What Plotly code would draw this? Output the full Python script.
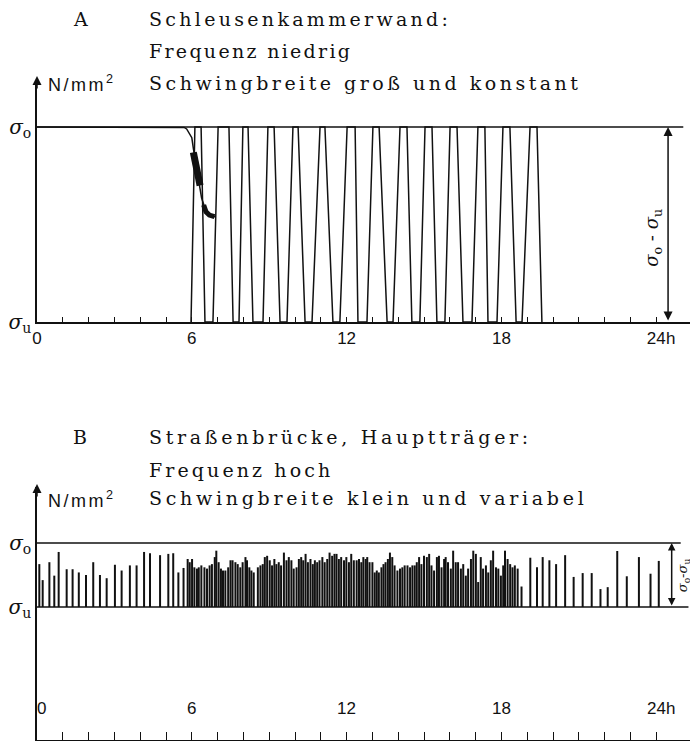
import plotly.graph_objects as go

# ---------------- Panel A data (hours, level: 0 = sigma_u, 1 = sigma_o) -------------
a_hours = [5.97, 6.12, 6.36, 6.51, 6.82, 7.02, 7.44, 7.60, 7.83, 7.98, 8.18, 8.37, 8.76,
           8.95, 9.19, 9.42, 9.69, 9.92, 10.12, 10.39, 10.66, 10.97, 11.16, 11.47, 11.74,
           12.02, 12.33, 12.44, 12.79, 13.02, 13.26, 13.57, 13.80, 14.07, 14.34, 14.53,
           14.84, 15.04, 15.31, 15.50, 15.81, 16.01, 16.28, 16.51, 16.86, 17.09, 17.36,
           17.48, 17.83, 18.06, 18.33, 18.57, 18.80, 19.11, 19.38, 19.57]
a_level = [0, 1, 1, 0, 0, 1, 1, 0, 0, 1, 1, 0, 0,
           1, 1, 0, 0, 1, 1, 0, 0, 1, 1, 0, 0,
           1, 1, 0, 0, 1, 1, 0, 0, 1, 1, 0,
           0, 1, 1, 0, 0, 1, 1, 0, 0, 1, 1,
           0, 0, 1, 1, 0, 0, 1, 1, 0]

a_curve_h = [0.0, 5.55, 5.70, 5.80, 5.90, 6.00, 6.06, 6.12, 6.20, 6.32, 6.38, 6.51, 6.60, 6.70, 6.90]
a_curve_v = [1.0, 1.0, 0.998, 0.99, 0.97, 0.945, 0.89, 0.84, 0.77, 0.69, 0.635, 0.585, 0.56, 0.545, 0.54]
a_blob1_h = [6.06, 6.14, 6.22, 6.32]
a_blob1_v = [0.87, 0.81, 0.76, 0.70]
a_blob2_h = [6.46, 6.55, 6.68, 6.88]
a_blob2_v = [0.60, 0.565, 0.548, 0.54]

# ---------------- Panel B data (hours, relative peak height) -------------
b_hours = [0.09, 0.22, 0.48, 0.67, 0.84, 1.15, 1.38, 1.62, 1.90, 2.18, 2.44, 2.70, 3.02,
           3.28, 3.60, 3.86, 4.15, 4.38, 4.77, 5.09, 5.28, 5.48,
           5.68, 5.84, 5.92, 6.01, 6.10, 6.20, 6.27, 6.37, 6.49, 6.59, 6.69, 6.78, 6.89,
           6.95, 7.04, 7.13, 7.21, 7.30, 7.41, 7.50, 7.58, 7.69, 7.78, 7.88, 7.97, 8.08,
           8.14, 8.23, 8.31, 8.40, 8.56, 8.66, 8.75, 8.83, 8.92, 9.02, 9.11, 9.20, 9.28,
           9.37, 9.46, 9.57, 9.67, 9.76, 9.86, 9.95, 10.06, 10.15, 10.24, 10.32, 10.41,
           10.50, 10.60, 10.69, 10.77, 10.86, 10.95, 11.06, 11.15, 11.25, 11.34, 11.44,
           11.53, 11.61, 11.70, 11.79, 11.90, 11.99, 12.09, 12.18, 12.28,
           12.39, 12.48, 12.57, 12.65, 12.74, 12.80, 12.89, 13.00, 13.09, 13.17, 13.25,
           13.35, 13.43, 13.51, 13.60, 13.68, 13.77, 13.86, 13.97, 14.07, 14.16, 14.25,
           14.36, 14.46, 14.55, 14.64, 14.72, 14.81, 14.90, 15.00, 15.11, 15.20, 15.29,
           15.39, 15.50, 15.58, 15.68, 15.78, 15.84, 15.93, 16.04, 16.13, 16.23, 16.32,
           16.43, 16.52, 16.62, 16.71, 16.82, 16.91, 17.01, 17.10, 17.20, 17.29, 17.40,
           17.49, 17.59, 17.68, 17.79, 17.88, 17.98, 18.07, 18.14, 18.24, 18.34, 18.43,
           18.52, 18.63, 18.78,
           19.12, 19.38, 19.60, 19.86, 20.12, 20.47, 20.80, 21.15, 21.50, 21.84, 22.12,
           22.49, 22.86, 23.33, 23.78, 24.10]
b_height = [0.67, 0.42, 0.70, 0.49, 0.86, 0.59, 0.59, 0.54, 0.50, 0.70, 0.50, 0.45, 0.66,
            0.57, 0.65, 0.65, 0.86, 0.84, 0.81, 0.83, 0.84, 0.54,
            0.61, 0.75, 0.70, 0.75, 0.62, 0.60, 0.62, 0.65, 0.62, 0.60, 0.65, 0.67, 0.78,
            0.88, 0.70, 0.60, 0.57, 0.57, 0.62, 0.73, 0.73, 0.70, 0.67, 0.62, 0.70, 0.78,
            0.73, 0.62, 0.57, 0.54, 0.62, 0.65, 0.67, 0.78, 0.80, 0.73, 0.65, 0.75, 0.67,
            0.70, 0.65, 0.85, 0.73, 0.78, 0.73, 0.60, 0.62, 0.75, 0.78, 0.73, 0.83,
            0.70, 0.75, 0.67, 0.73, 0.70, 0.73, 0.78, 0.70, 0.75, 0.85, 0.80,
            0.83, 0.83, 0.75, 0.78, 0.73, 0.78, 0.70, 0.83, 0.73,
            0.73, 0.75, 0.70, 0.78, 0.75, 0.78, 0.70, 0.70, 0.54, 0.57, 0.54,
            0.62, 0.67, 0.70, 0.75, 0.85, 0.78, 0.65, 0.57, 0.60, 0.62, 0.65,
            0.65, 0.62, 0.65, 0.65, 0.70, 0.78, 0.67, 0.80, 0.78, 0.83, 0.65,
            0.57, 0.78, 0.80, 0.62, 0.75, 0.78, 0.70, 0.60, 0.88, 0.70, 0.70,
            0.60, 0.67, 0.49, 0.60, 0.75, 0.88, 0.83, 0.39, 0.78, 0.60, 0.65,
            0.54, 0.73, 0.88, 0.62, 0.60, 0.49, 0.65, 0.88, 0.75, 0.67, 0.62,
            0.65, 0.60, 0.32,
            0.77, 0.62, 0.78, 0.73, 0.67, 0.81, 0.47, 0.53, 0.53, 0.28, 0.31,
            0.875, 0.48, 0.78, 0.52, 0.72]

hour_ticks = list(range(25))
hour_labels = ["0", "", "", "", "", "", "6", "", "", "", "", "", "12",
               "", "", "", "", "", "18", "", "", "", "", "", "24"]
major_hours = [0, 6, 12, 18, 24]
major_labels = ["0", "6", "12", "18", "24"]

# ---------------- geometry (screen pixels of the reference) ----------------
SW, SH = 690, 741      # window
OFF = 0                # body margin removed by post_script
W, H = SW - OFF, SH - OFF
X0 = 37                # screen pixel of hour 0
PXH = 25.8             # pixels per hour
XMAX = (SW - X0) / PXH

def px(p):
    return (p - OFF) / W

def py(p):
    return 1 - (p - OFF) / H

INK = "#111111"
SERIF = "DejaVu Serif"
SANS = "Liberation Sans"

fig = go.Figure()

# Panel A traces
fig.add_trace(go.Scatter(x=a_curve_h, y=a_curve_v, mode="lines",
                         line=dict(color=INK, width=1.5), xaxis="x", yaxis="y",
                         hoverinfo="skip"))
fig.add_trace(go.Scatter(x=a_blob1_h, y=a_blob1_v, mode="lines",
                         line=dict(color=INK, width=7), xaxis="x", yaxis="y",
                         hoverinfo="skip"))
fig.add_trace(go.Scatter(x=a_blob2_h, y=a_blob2_v, mode="lines",
                         line=dict(color=INK, width=5), xaxis="x", yaxis="y",
                         hoverinfo="skip"))
fig.add_trace(go.Scatter(x=a_hours, y=a_level, mode="lines",
                         line=dict(color=INK, width=1.5), xaxis="x", yaxis="y",
                         hoverinfo="skip"))

# Panel B spikes
bx, by = [], []
for h, v in zip(b_hours, b_height):
    bx += [h, h, None]
    by += [0, v, None]
fig.add_trace(go.Scatter(x=bx, y=by, mode="lines",
                         line=dict(color=INK, width=2.0), xaxis="x2", yaxis="y2",
                         hoverinfo="skip"))

# reference lines
fig.add_shape(type="line", xref="x", yref="y", x0=0, x1=25.05, y0=1, y1=1,
              line=dict(color=INK, width=1.5))
fig.add_shape(type="line", xref="x2", yref="y2", x0=0, x1=24.95, y0=1, y1=1,
              line=dict(color=INK, width=1.5))
fig.add_shape(type="line", xref="x2", yref="y2", x0=0, x1=25.25, y0=0, y1=0,
              line=dict(color=INK, width=1.5))

sig_o = "<i>σ</i><sub>o</sub>"
sig_u = "<i>σ</i><sub>u</sub>"

common_x = dict(domain=[px(X0), 1], range=[0, XMAX], showgrid=False, zeroline=False,
                showline=True, linecolor=INK, linewidth=1.5, ticks="inside",
                tickcolor=INK, tickwidth=1.3, tickvals=hour_ticks, ticktext=hour_labels,
                fixedrange=True, automargin=False)
common_y = dict(showgrid=False, zeroline=False, showline=True, linecolor=INK,
                linewidth=1.5, ticks="", tickvals=[0, 1], ticktext=[sig_u, sig_o],
                tickfont=dict(family=SERIF, size=20, color=INK), fixedrange=True,
                automargin=False)
fig.update_layout(
    template="none",
    width=W, height=H, margin=dict(l=0, r=0, t=0, b=0, pad=0), autosize=False,
    paper_bgcolor="white", plot_bgcolor="white", showlegend=False,
    xaxis=dict(common_x, anchor="y", ticklen=5,
               tickfont=dict(family=SANS, size=17, color=INK)),
    yaxis=dict(common_y, domain=[py(322), py(80)], range=[0, (322 - 80) / 195],
               anchor="x"),
    xaxis2=dict(common_x, anchor="y2", ticklen=8, showticklabels=False),
    yaxis2=dict(common_y, domain=[py(SH - 1), py(487)],
                range=[-(SH - 1 - 607) / 64, (607 - 487) / 64], anchor="x2"),
)

ann = []
# axis arrows
for ytip in (76, 484):
    ann.append(dict(xref="paper", yref="paper", x=px(X0), y=py(ytip), ax=0, ay=14,
                    showarrow=True, arrowhead=2, arrowsize=1.2, arrowwidth=1.5,
                    arrowcolor=INK, text=""))
# double arrows for sigma_o - sigma_u
ann.append(dict(xref="x", yref="y", axref="x", ayref="y", x=24.46, y=1, ax=24.46, ay=0,
                showarrow=True, arrowhead=2, arrowside="end+start", arrowsize=1.2,
                arrowwidth=1.5, arrowcolor=INK, text=""))
ann.append(dict(xref="x2", yref="y2", axref="x2", ayref="y2", x=24.6, y=1, ax=24.6, ay=0,
                showarrow=True, arrowhead=2, arrowside="end+start", arrowsize=1.0,
                arrowwidth=1.5, arrowcolor=INK, text=""))
ann.append(dict(xref="x", yref="y", x=23.9, y=0.43, showarrow=False, textangle=-90,
                text=sig_o + " - " + sig_u, font=dict(family=SERIF, size=18, color=INK)))
ann.append(dict(xref="x2", yref="y2", x=24.68, y=0.5, xanchor="left", showarrow=False,
                textangle=-90, borderpad=0,
                text=sig_o + "-" + sig_u, font=dict(family=SERIF, size=13, color=INK)))
# "h" unit next to 24
ann.append(dict(xref="paper", yref="paper", x=px(677), y=py(338), showarrow=False,
                text="h", font=dict(family=SANS, size=17, color=INK)))
# Panel B tick labels (above the axis)
for h, t in zip(major_hours, major_labels):
    ann.append(dict(xref="x2", yref="paper", x=h, y=py(720), showarrow=False,
                    xshift=4 if h == 0 else 0,
                    text=t, font=dict(family=SANS, size=17, color=INK)))
ann.append(dict(xref="paper", yref="paper", x=px(677), y=py(720), showarrow=False,
                text="h", font=dict(family=SANS, size=17, color=INK)))

# titles
def label(txt, xp, yp, fam=SERIF, size=19, anchor="left", spacing=None):
    if spacing is not None:
        txt = '<span style="letter-spacing:%.1fpx">%s</span>' % (spacing, txt)
    ann.append(dict(xref="paper", yref="paper", x=px(xp), y=py(yp), xanchor=anchor,
                    yanchor="middle", showarrow=False, text=txt,
                    font=dict(family=fam, size=size, color=INK)))

label("A", 80, 19, anchor="center")
label("Schleusenkammerwand:", 147, 19, spacing=3.3)
label("Frequenz niedrig", 147, 51, spacing=2.3)
label("Schwingbreite groß und konstant", 147, 83, spacing=3.5)
label("N/mm<sup>2</sup>", 46, 84, fam=SANS, size=18, spacing=2.5)
label("B", 80, 437, anchor="center")
label("Straßenbrücke, Hauptträger:", 147, 437, spacing=3.7)
label("Frequenz hoch", 147, 470, spacing=3.1)
label("Schwingbreite klein und variabel", 147, 498, spacing=3.7)
label("N/mm<sup>2</sup>", 46, 499, fam=SANS, size=18, spacing=2.5)

fig.update_layout(annotations=ann)
fig.write_html("out.html", default_width="%dpx" % W, default_height="%dpx" % H,
               config={"displayModeBar": False},
               post_script="document.body.style.margin='0';"
                           "document.body.style.overflow='hidden';")
